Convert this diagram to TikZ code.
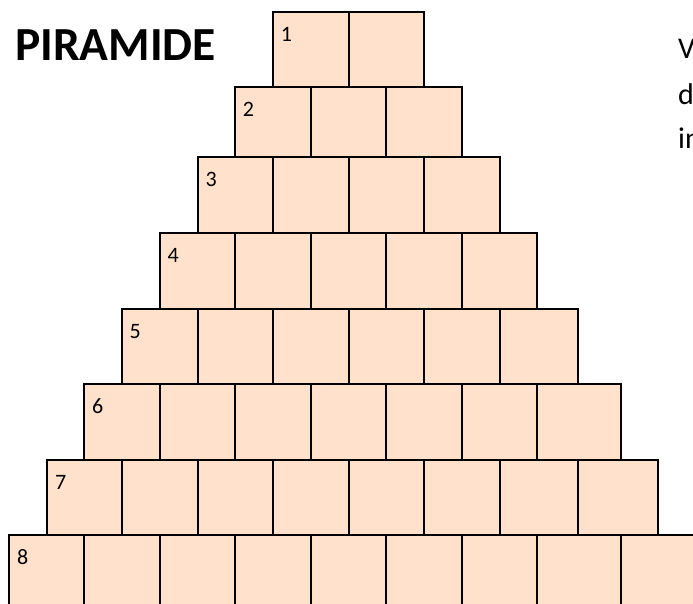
\documentclass[tikz,border=0pt]{standalone}
\usepackage{fontspec}
\setmainfont{Carlito}
\definecolor{cellfill}{RGB}{255,225,204}
\tikzset{
  cell/.style={fill=cellfill,draw=black,line width=2pt},
  num/.style={anchor=base west,inner sep=0pt,font=\fontsize{22}{26}\selectfont},
  title/.style={anchor=base west,inner sep=0pt,font=\bfseries\fontsize{47.5}{54}\selectfont},
  sidetext/.style={anchor=base west,inner sep=0pt,font=\fontsize{30}{35}\selectfont}
}
\begin{document}
\begin{tikzpicture}[x=1pt,y=-1pt]
\useasboundingbox (0,0) rectangle (693,603);
\clip (0,0) rectangle (693,603);
\def\xs{{8.8,46.8,84,121.5,159.5,197.5,234.6,272.6,310.6,348.7,386.2,424.2,462.2,500.2,536.9,578,620.9,658,700}}
\foreach \r/\yt/\yb in {1/11.9/86.9,2/86.9/156.9,3/156.9/232.7,4/232.7/308.5,5/308.5/383.8,6/383.8/459.6,7/459.6/535.4,8/535.4/611}{
  \pgfmathtruncatemacro\start{8-\r}
  \foreach \k in {0,...,\r}{
    \pgfmathsetmacro\xa{\xs[\start+2*\k]}
    \pgfmathsetmacro\xb{\xs[\start+2*\k+2]}
    \draw[cell] (\xa,\yt) rectangle (\xb,\yb);
  }
  \pgfmathsetmacro\xa{\xs[\start]}
  \node[num] (n\r) at (\xa+8,\yt+29.5) {\r};
}
\node[title] (ttl) at (15,60.4) {PIRAMIDE};
\node[sidetext] (s1) at (678,58) {V};
\node[sidetext] (s2) at (678,104) {d};
\node[sidetext] (s3) at (678,148) {in};
\end{tikzpicture}
\end{document}
